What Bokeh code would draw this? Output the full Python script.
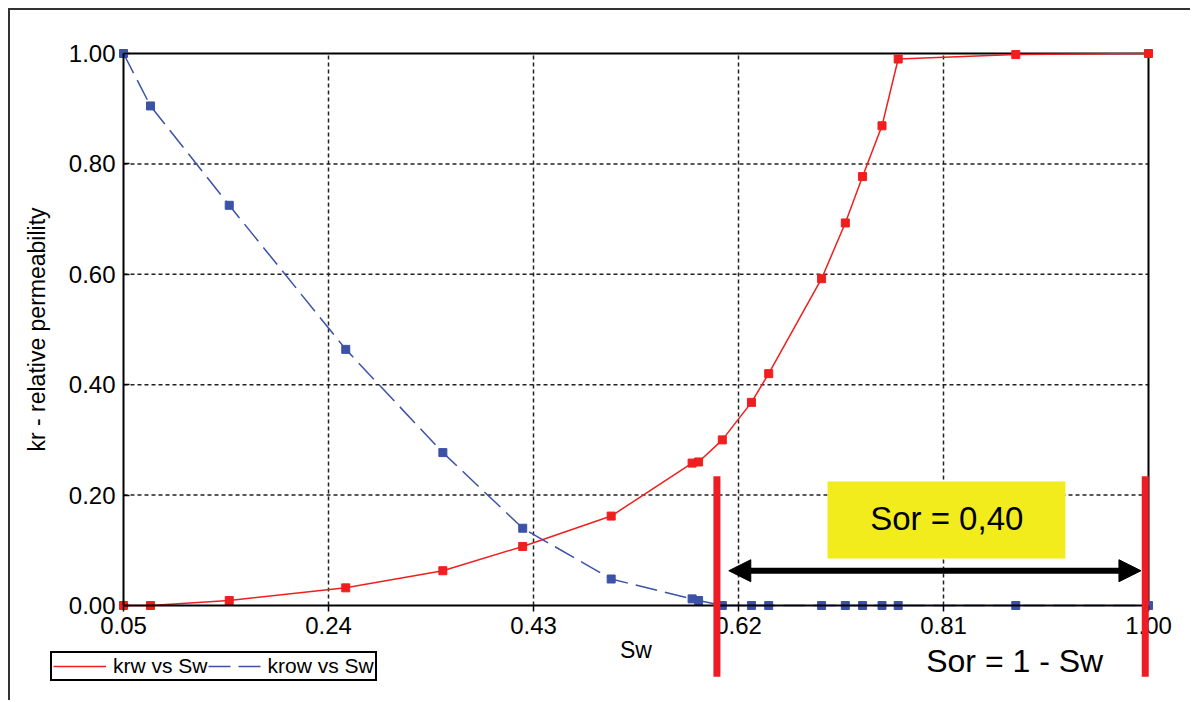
from bokeh.plotting import figure
from bokeh.models import (FixedTicker, NumeralTickFormatter, Legend, LegendItem,
                          Label, Arrow, NormalHead, LinearAxis, Range1d)
from bokeh.embed import file_html
from bokeh.resources import INLINE

# ---- data ----
sw = [0.05, 0.075, 0.148, 0.256, 0.346, 0.420, 0.502, 0.577, 0.583, 0.605,
      0.632, 0.648, 0.697, 0.719, 0.735, 0.753, 0.768, 0.877, 1.00]
krw = [0.0, 0.0, 0.009, 0.032, 0.063, 0.107, 0.162, 0.258, 0.260, 0.300,
       0.368, 0.420, 0.592, 0.693, 0.777, 0.869, 0.990, 0.998, 1.00]
krow = [1.00, 0.905, 0.725, 0.464, 0.277, 0.140, 0.048, 0.012, 0.009, 0.0,
        0.0, 0.0, 0.0, 0.0, 0.0, 0.0, 0.0, 0.0, 0.0]
x_ticks = [0.05, 0.24, 0.43, 0.62, 0.81, 1.00]
y_ticks = [0.0, 0.2, 0.4, 0.6, 0.8, 1.0]

series_labels = ["krw vs Sw", "krow vs Sw"]
x_title = "Sw"
y_title = "kr - relative permeability"
sw_connate_end = 0.60     # left red marker (Sw at Sor)
sw_max = 0.997            # right red marker
sor_text = "Sor = 0,40"
sor_formula = "Sor = 1 - Sw"

FONT = "Liberation Sans"
RED = "#f01e1e"
BLUE = "#3b52a6"

# ---- geometry: canvas is the whole frame, plot box drawn inside ----
W, H = 1182, 692
BOX_L, BOX_T, BOX_W, BOX_H = 113, 43, 1025, 552
x_lo, x_hi = x_ticks[0], x_ticks[-1]
y_lo, y_hi = y_ticks[0], y_ticks[-1]
ppx = BOX_W / (x_hi - x_lo)
ppy = BOX_H / (y_hi - y_lo)
x_start = x_lo - BOX_L / ppx
x_end = x_start + W / ppx
y_end = y_hi + BOX_T / ppy
y_start = y_end - H / ppy

p = figure(width=W, height=H, x_range=Range1d(x_start, x_end),
           y_range=Range1d(y_start, y_end),
           x_axis_location=None, y_axis_location=None,
           output_backend="svg", toolbar_location=None,
           min_border=0, min_border_left=0, min_border_right=0,
           min_border_top=0, min_border_bottom=0,
           background_fill_color="white", border_fill_color="white")
p.styles = {"border-top": "2px solid #333", "border-left": "2px solid #333",
            "margin-left": "8px", "margin-top": "8px"}
p.outline_line_color = None
p.grid.visible = False

# grid (dotted) inside the plot box
gx = x_ticks[1:-1]
p.segment(x0=gx, y0=[y_lo] * len(gx), x1=gx, y1=[y_hi] * len(gx),
          line_color="#222222", line_dash="4 3", line_width=1.5)
gy = y_ticks[1:-1]
p.segment(x0=[x_lo] * len(gy), y0=gy, x1=[x_hi] * len(gy), y1=gy,
          line_color="#222222", line_dash="4 3", line_width=1.5)

# yellow box behind text
p.quad(left=[0.7025], right=[0.923], bottom=[0.085], top=[0.2246],
       fill_color="#f2ec1c", line_color=None)

# plot box top and right edges
p.segment(x0=[x_lo, x_hi], y0=[y_hi, y_lo], x1=[x_hi, x_hi], y1=[y_hi, y_hi],
          line_color="black", line_width=2)

# axes
xaxis = LinearAxis(fixed_location=y_lo, bounds=(x_lo, x_hi),
                   ticker=FixedTicker(ticks=x_ticks),
                   formatter=NumeralTickFormatter(format="0.00"),
                   axis_label=x_title)
yaxis = LinearAxis(fixed_location=x_lo, bounds=(y_lo, y_hi),
                   ticker=FixedTicker(ticks=y_ticks),
                   formatter=NumeralTickFormatter(format="0.00"),
                   axis_label=y_title)
for ax in (xaxis, yaxis):
    ax.axis_line_width = 2
    ax.axis_line_color = "black"
    ax.major_tick_line_color = "black"
    ax.major_tick_line_width = 1.5
    ax.minor_tick_line_color = None
    ax.major_label_text_font = FONT
    ax.major_label_text_font_size = "24px"
    ax.major_label_text_color = "black"
    ax.axis_label_text_font = FONT
    ax.axis_label_text_font_size = "23px"
    ax.axis_label_text_font_style = "normal"
    ax.axis_label_text_color = "black"
xaxis.major_tick_out = 6
xaxis.major_tick_in = 0
yaxis.major_tick_out = 0
yaxis.major_tick_in = 6
xaxis.major_label_standoff = 5
yaxis.major_label_standoff = 8
xaxis.axis_label_standoff = 0
yaxis.axis_label_standoff = 16
p.add_layout(xaxis, "below")
p.add_layout(yaxis, "left")

# curves
r_krw = p.line(sw, krw, line_color=RED, line_width=1.5)
p.scatter(sw, krw, marker="square", size=8, fill_color=RED, line_color=RED)
r_krow = p.line(sw, krow, line_color=BLUE, line_width=1.5, line_dash="22 8")
p.scatter(sw, krow, marker="square", size=8, fill_color=BLUE, line_color=BLUE)

legend = Legend(items=[LegendItem(label=series_labels[0], renderers=[r_krw]),
                       LegendItem(label=series_labels[1], renderers=[r_krow])],
                location=(40, 21), orientation="horizontal",
                border_line_color="black", border_line_width=2,
                border_line_alpha=1.0,
                background_fill_color="white", background_fill_alpha=1.0,
                label_text_font=FONT, label_text_font_size="21px",
                label_text_color="black",
                glyph_width=53, glyph_height=16, label_height=18,
                label_standoff=7, spacing=0, padding=1, margin=0)
p.add_layout(legend)

# annotations
for xv in (sw_connate_end, sw_max):
    p.add_layout(Arrow(x_start=xv, y_start=0.234, x_end=xv, y_end=-0.129,
                       end=None, start=None, line_color="#ee1c25", line_width=7))

p.add_layout(Arrow(x_start=0.611, y_start=0.063, x_end=0.993, y_end=0.063,
                   start=NormalHead(size=22, fill_color="black", line_color="black"),
                   end=NormalHead(size=22, fill_color="black", line_color="black"),
                   line_color="black", line_width=6))

p.add_layout(Label(x=0.813, y=0.157, text=sor_text, text_font=FONT,
                   text_font_size="33px", text_align="center",
                   text_baseline="middle", text_color="black"))
p.add_layout(Label(x=0.876, y=-0.10, text=sor_formula, text_font=FONT,
                   text_font_size="32px", text_align="center",
                   text_baseline="middle", text_color="black"))

open("out.html", "w").write(file_html(p, INLINE))
